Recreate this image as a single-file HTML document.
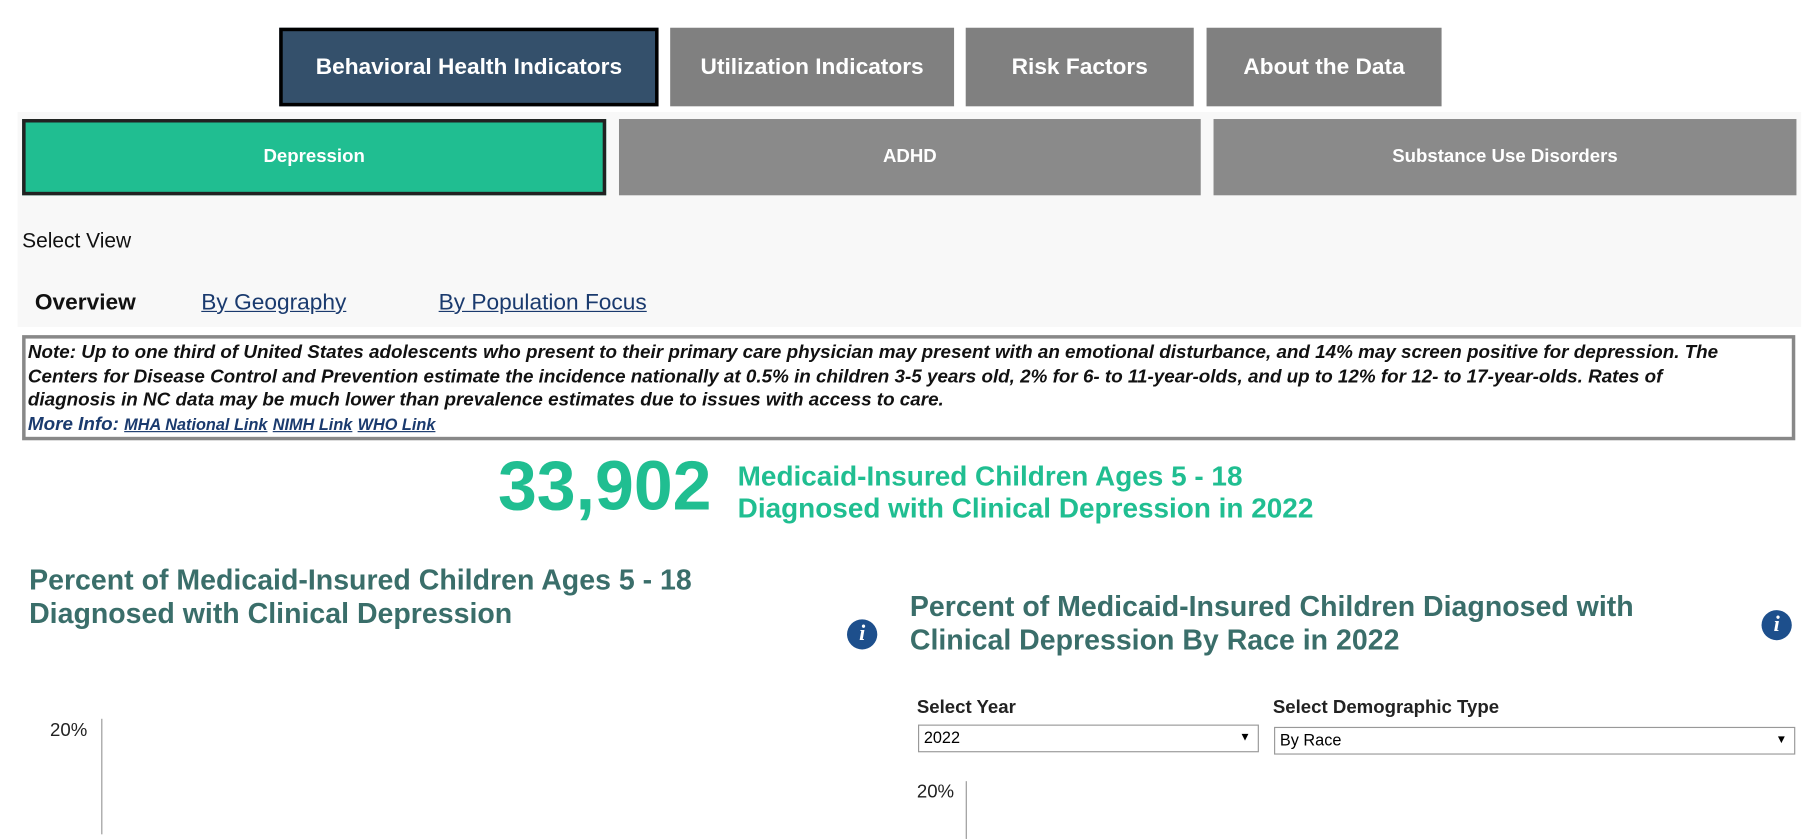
<!DOCTYPE html>
<html><head><meta charset="utf-8"><style>
html,body{margin:0;padding:0;background:#fff;width:1815px;height:832px;overflow:hidden}
#w{position:absolute;left:0;top:0;width:1560px;height:720px;transform:scale(1.1635,1.1556);transform-origin:0 0;font-family:"Liberation Sans",Arial,sans-serif}
.a{position:absolute}
.t{box-sizing:border-box;color:#fff;font-weight:bold;display:flex;align-items:center;justify-content:center}
.g{color:#3a6e6a;font-weight:bold;font-size:24.5px;line-height:29px}
.i{width:26px;height:26px;border-radius:50%;background:#1d4f8c;color:#fff;font:italic bold 19px "Liberation Serif",serif;text-align:center;line-height:26px}
.dd{box-sizing:border-box;border:1px solid #999;background:#fff;font-size:14px;padding-left:4px;line-height:21px}
</style></head><body><div id="w">
<div class="a t" style="left:240px;top:24px;width:326px;height:68px;background:#34506b;border:3px solid #000;font-size:19.5px">Behavioral Health Indicators</div>
<div class="a t" style="left:576px;top:24px;width:244px;height:68px;background:#808080;font-size:19.5px">Utilization Indicators</div>
<div class="a t" style="left:830px;top:24px;width:196px;height:68px;background:#808080;font-size:19.5px">Risk Factors</div>
<div class="a t" style="left:1037px;top:24px;width:202px;height:68px;background:#808080;font-size:19.5px">About the Data</div>
<div class="a" style="left:15px;top:97px;width:1533px;height:186px;background:#f8f8f8"></div>
<div class="a t" style="left:19px;top:103px;width:502px;height:66px;background:#20be91;border:3px solid #222;font-size:16px">Depression</div>
<div class="a t" style="left:532px;top:103px;width:500px;height:66px;background:#8a8a8a;font-size:16px">ADHD</div>
<div class="a t" style="left:1043px;top:103px;width:501px;height:66px;background:#8a8a8a;font-size:16px">Substance Use Disorders</div>
<div class="a" style="left:19px;top:198px;font-size:18px;color:#111">Select View</div>
<div class="a" style="left:30px;top:251px;font-size:19.5px;font-weight:bold;color:#111">Overview</div>
<div class="a" style="left:173px;top:251px;font-size:19.5px;color:#1a3a6e;text-decoration:underline">By Geography</div>
<div class="a" style="left:377px;top:251px;font-size:19.5px;color:#1a3a6e;text-decoration:underline">By Population Focus</div>
<div class="a" style="left:19px;top:290px;width:1524px;height:91px;box-sizing:border-box;border:3px solid #888;padding:2px 2px;font-size:16.2px;font-style:italic;font-weight:bold;line-height:20.5px;color:#111;white-space:nowrap;overflow:hidden">Note: Up to one third of United States adolescents who present to their primary care physician may present with an emotional disturbance, and 14% may screen positive for depression. The<br>Centers for Disease Control and Prevention estimate the incidence nationally at 0.5% in children 3-5 years old, 2% for 6- to 11-year-olds, and up to 12% for 12- to 17-year-olds. Rates of<br>diagnosis in NC data may be much lower than prevalence estimates due to issues with access to care.<br><span style="color:#1a3a6e;line-height:17px">More Info: </span><span style="font-size:14px;color:#1a3a6e;text-decoration:underline">MHA National Link</span> <span style="font-size:14px;color:#1a3a6e;text-decoration:underline">NIMH Link</span> <span style="font-size:14px;color:#1a3a6e;text-decoration:underline">WHO Link</span></div>
<div class="a" style="left:428px;top:386px;font-size:60px;font-weight:bold;color:#20be91;line-height:70px">33,902</div>
<div class="a" style="left:634px;top:399px;font-size:24px;font-weight:bold;color:#20be91;line-height:28px">Medicaid-Insured Children Ages 5 - 18<br>Diagnosed with Clinical Depression in 2022</div>
<div class="a g" style="left:25px;top:488px">Percent of Medicaid-Insured Children Ages 5 - 18<br>Diagnosed with Clinical Depression</div>
<div class="a g" style="left:782px;top:511px">Percent of Medicaid-Insured Children Diagnosed with<br>Clinical Depression By Race in 2022</div>
<div class="a i" style="left:728px;top:536px">i</div>
<div class="a i" style="left:1514px;top:528px">i</div>
<div class="a" style="left:788px;top:604px;font-size:16px;font-weight:bold;color:#222">Select Year</div>
<div class="a" style="left:1094px;top:604px;font-size:16px;font-weight:bold;color:#222">Select Demographic Type</div>
<div class="a dd" style="left:789px;top:627px;width:293px;height:24px">2022<span style="position:absolute;right:6px;font-size:10px">▼</span></div>
<div class="a dd" style="left:1095px;top:629px;width:448px;height:24px">By Race<span style="position:absolute;right:6px;font-size:10px">▼</span></div>
<div class="a" style="left:43px;top:624px;font-size:16px;color:#222">20%</div>
<div class="a" style="left:87px;top:622px;width:1px;height:100px;background:#999"></div>
<div class="a" style="left:788px;top:677px;font-size:16px;color:#222">20%</div>
<div class="a" style="left:830px;top:676px;width:1px;height:50px;background:#999"></div>
</div></body></html>
